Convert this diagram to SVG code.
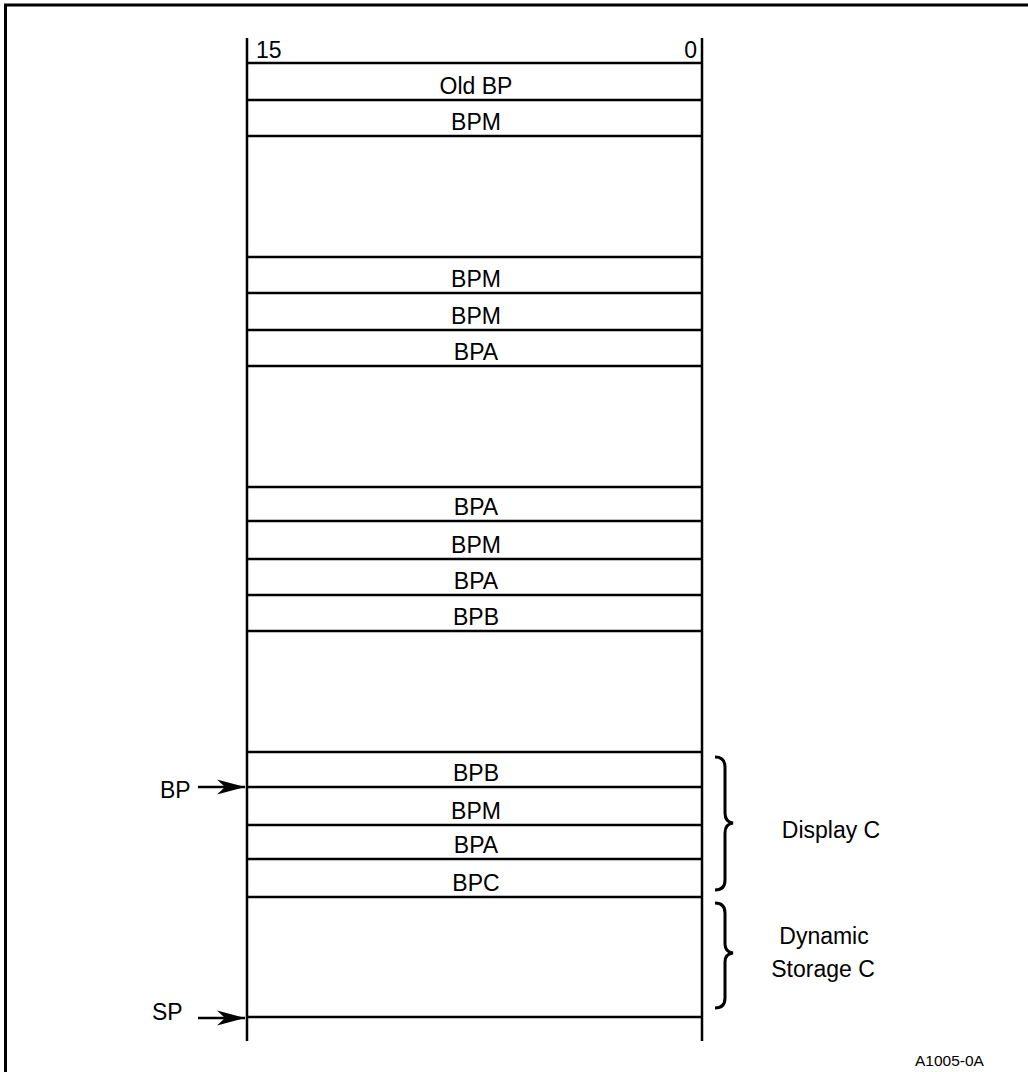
<svg xmlns="http://www.w3.org/2000/svg" width="1028" height="1072" viewBox="0 0 1028 1072">
<style>
text{font-family:"Liberation Sans",Arial,sans-serif;font-size:23px;fill:#000}
.c{text-anchor:middle}
.ln{stroke:#000;stroke-width:2.5;fill:none}
.br{stroke:#000;stroke-width:3;fill:none}
</style>
<defs>
<marker id="ah" markerWidth="30" markerHeight="20" refX="28" refY="10" orient="auto" markerUnits="userSpaceOnUse">
<path d="M0,2.5 L28,10 L0,17.5 L8,10 Z" fill="#000"/>
</marker>
</defs>
<rect width="1028" height="1072" fill="#fff"/>
<path d="M5.5,1072 V5 H1028" stroke="#000" stroke-width="3" fill="none"/>
<g id="stack">
<line class="ln" x1="247" y1="38" x2="247" y2="1041"/>
<line class="ln" x1="702" y1="38" x2="702" y2="1041"/>
<path class="ln" d="M247,63H702M247,100H702M247,136H702M247,257H702M247,293H702M247,330H702M247,366H702M247,487H702M247,521H702M247,559H702M247,595H702M247,631H702M247,752H702M247,787H702M247,825H702M247,859H702M247,897H702M247,1017H702"/>
<text x="256" y="58">15</text>
<text x="697" y="58" text-anchor="end">0</text>
</g>
<g id="cells">
<text class="c" x="476" y="94">Old BP</text>
<text class="c" x="476" y="130">BPM</text>
<text class="c" x="476" y="287">BPM</text>
<text class="c" x="476" y="324">BPM</text>
<text class="c" x="476" y="360">BPA</text>
<text class="c" x="476" y="515">BPA</text>
<text class="c" x="476" y="553">BPM</text>
<text class="c" x="476" y="589">BPA</text>
<text class="c" x="476" y="625">BPB</text>
<text class="c" x="476" y="781">BPB</text>
<text class="c" x="476" y="819">BPM</text>
<text class="c" x="476" y="853">BPA</text>
<text class="c" x="476" y="891">BPC</text>
</g>
<g id="connectors">
<line class="ln" x1="198" y1="787" x2="245" y2="787" marker-end="url(#ah)"/>
<line class="ln" x1="198" y1="1018" x2="245" y2="1018" marker-end="url(#ah)"/>
</g>
<g id="bp-label"><text x="160" y="798">BP</text></g>
<g id="sp-label"><text x="152" y="1020">SP</text></g>
<g id="display-c">
<path class="br" d="M715,757 Q725,757 725,767 V813 Q725,822 733,823 Q725,824 725,833 V880 Q725,890 715,890"/>
<text class="c" x="831" y="838">Display C</text>
</g>
<g id="dynamic-storage-c">
<path class="br" d="M715,903 Q725,903 725,913 V944 Q725,952 733,953 Q725,954 725,962 V998 Q725,1008 715,1008"/>
<text class="c" x="824" y="944">Dynamic</text>
<text class="c" x="823" y="977">Storage C</text>
</g>
<text x="915" y="1066" style="font-size:15.5px">A1005-0A</text>
</svg>
